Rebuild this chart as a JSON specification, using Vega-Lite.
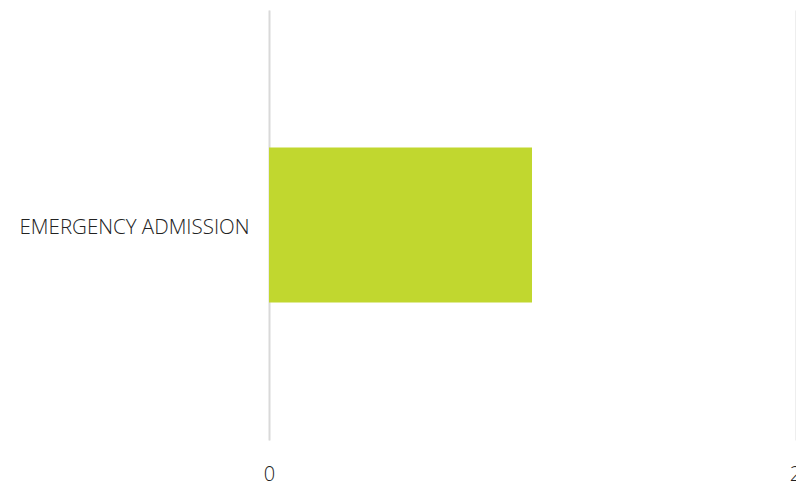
{
  "$schema": "https://vega.github.io/schema/vega-lite/v6.json",
  "width": 526,
  "height": 430,
  "autosize": {"type": "none"},
  "padding": {"left": 269, "top": 10, "right": 1, "bottom": 47},
  "background": "white",
  "config": {"view": {"stroke": null}, "font": "Open Sans"},
  "data": {"values": [{"category": "EMERGENCY ADMISSION", "value": 1}]},
  "mark": {"type": "bar", "color": "#c1d72f"},
  "encoding": {
    "y": {
      "field": "category",
      "type": "nominal",
      "scale": {"paddingInner": 0.47, "paddingOuter": 0.47},
      "axis": {
        "title": null,
        "domain": true,
        "domainColor": "#d9d9d9",
        "domainWidth": 2,
        "ticks": false,
        "labelPadding": 20,
        "labelOffset": 3,
        "labelFontSize": 20.5,
        "labelColor": "#222222",
        "labelFont": "Open Sans",
        "labelFontWeight": 300,
        "labelLimit": 400
      }
    },
    "x": {
      "field": "value",
      "type": "quantitative",
      "scale": {"domain": [0, 2], "nice": false},
      "axis": {
        "title": null,
        "values": [0, 2],
        "domain": false,
        "ticks": false,
        "grid": true,
        "gridColor": "#eeeeee",
        "gridWidth": 1,
        "labelPadding": 24,
        "labelFontSize": 20,
        "labelColor": "#222222",
        "labelFont": "Open Sans",
        "labelFontWeight": 300,
        "labelFlush": false,
        "labelOverlap": false,
        "labelBound": false
      }
    }
  }
}
